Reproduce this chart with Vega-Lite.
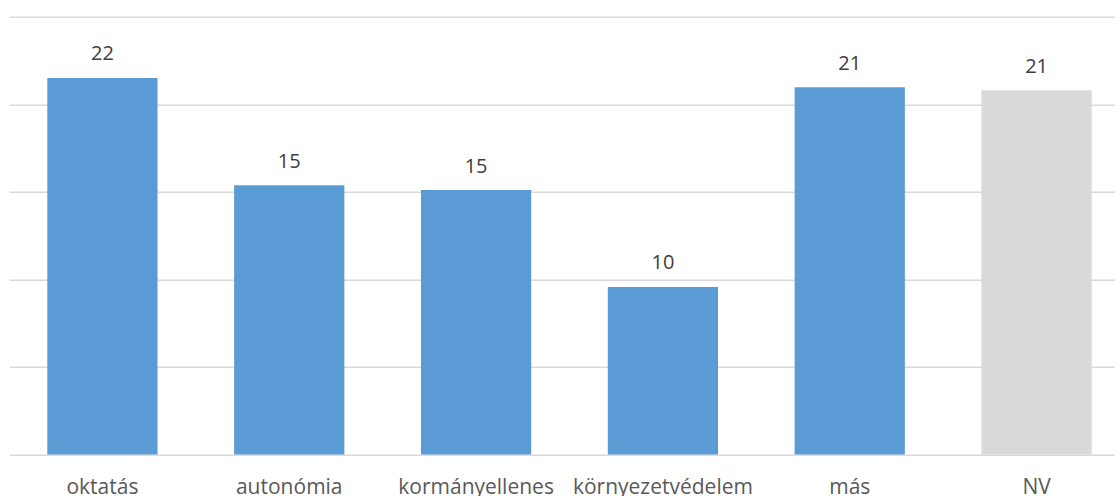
{
  "$schema": "https://vega.github.io/schema/vega-lite/v6.json",
  "autosize": "none",
  "padding": {"left": 9, "top": 16.7, "right": 0, "bottom": 41.5},
  "width": 1106,
  "height": 437.8,
  "background": "white",
  "config": {"view": {"stroke": null}, "font": "Open Sans"},
  "data": {"values": [
    {"category": "oktatás", "value": 21.5, "label": "22", "group": "a"},
    {"category": "autonómia", "value": 15.37, "label": "15", "group": "a"},
    {"category": "kormányellenes", "value": 15.1, "label": "15", "group": "a"},
    {"category": "környezetvédelem", "value": 9.57, "label": "10", "group": "a"},
    {"category": "más", "value": 20.97, "label": "21", "group": "a"},
    {"category": "NV", "value": 20.8, "label": "21", "group": "b"}
  ]},
  "encoding": {
    "x": {"field": "category", "type": "nominal", "sort": null,
      "scale": {"range": [0, 1121], "paddingInner": 0.41, "paddingOuter": 0.205},
      "axis": {"title": null, "domain": false, "ticks": false, "labelAngle": 0,
        "labelFont": "Open Sans", "labelFontSize": 21, "labelColor": "#595959", "labelLimit": 0,
        "labelBaseline": "alphabetic", "labelPadding": 39, "labelOverlap": false, "labelBound": false}},
    "y": {"field": "value", "type": "quantitative",
      "scale": {"domain": [0, 25], "nice": false},
      "axis": {"title": null, "domain": false, "ticks": false, "labels": false,
        "values": [0, 5, 10, 15, 20, 25], "grid": true, "gridColor": "#d9d9d9", "gridWidth": 1.5}}
  },
  "layer": [
    {"mark": {"type": "bar"},
     "encoding": {"color": {"field": "group", "type": "nominal",
        "scale": {"domain": ["a", "b"], "range": ["#5b9bd5", "#d9d9d9"]}, "legend": null}}},
    {"mark": {"type": "text", "baseline": "alphabetic", "dy": -17.5, "font": "Open Sans", "fontSize": 20, "color": "#404040"},
     "encoding": {"text": {"field": "label", "type": "nominal"}}}
  ]
}
